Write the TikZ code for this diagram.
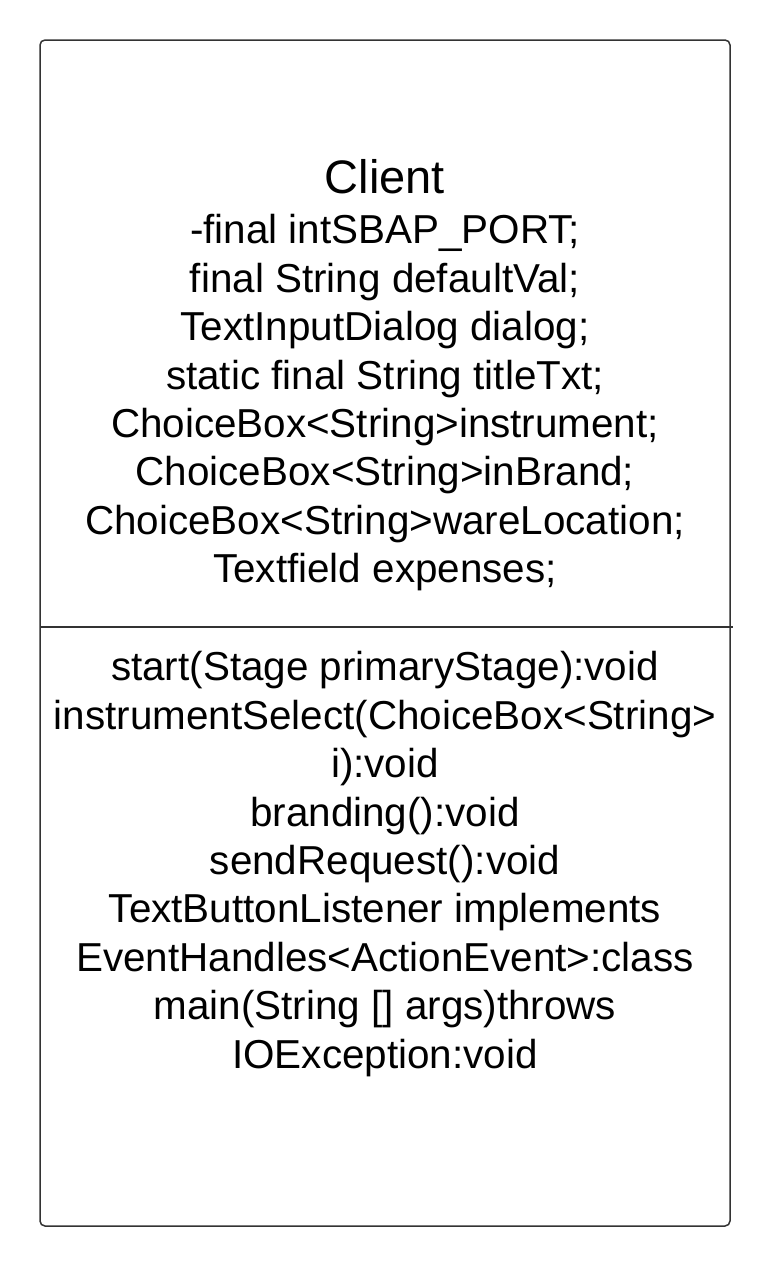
\documentclass[tikz,border=0pt]{standalone}
\usepackage{fontspec}
\setmainfont{Liberation Sans}
\begin{document}
\begin{tikzpicture}[x=1pt, y=-1pt,
    classbox/.style={draw=black!80, line width=1.5pt, rounded corners=5pt},
    classname/.style={font=\fontsize{47}{52}\selectfont, inner sep=0pt},
    members/.style={font=\fontsize{40.4}{48.4}\selectfont, align=center, inner sep=0pt, anchor=north}]

    % Page frame
    \useasboundingbox (0,0) rectangle (774,1267);

    % Class box and divider
    \coordinate (topleft) at (40,40);
    \coordinate (botright) at (730,1226);
    \coordinate (divl) at (40,627);
    \coordinate (divr) at (733,627);
    \draw[classbox] (topleft) rectangle (botright);
    \draw[draw=black!80, line width=1.5pt] (divl) -- (divr);

    % Class name
    \node[classname] (name) at (385,177) {Client};

    % Attributes
    \node[members] (attrs) at (385,214.5) {-final intSBAP\_PORT;\\
        final String defaultVal;\\
        TextInputDialog dialog;\\
        static final String titleTxt;\\
        ChoiceBox<String>instrument;\\
        ChoiceBox<String>inBrand;\\
        ChoiceBox<String>wareLocation;\\
        Textfield expenses;};

    % Methods
    \node[members] (ops) at (385,651.5) {start(Stage primaryStage):void\\
        instrumentSelect(ChoiceBox<String>\\
        i):void\\
        branding():void\\
        sendRequest():void\\
        TextButtonListener implements\\
        EventHandles<ActionEvent>:class\\
        main(String [] args)throws\\
        IOException:void};

\end{tikzpicture}
\end{document}
